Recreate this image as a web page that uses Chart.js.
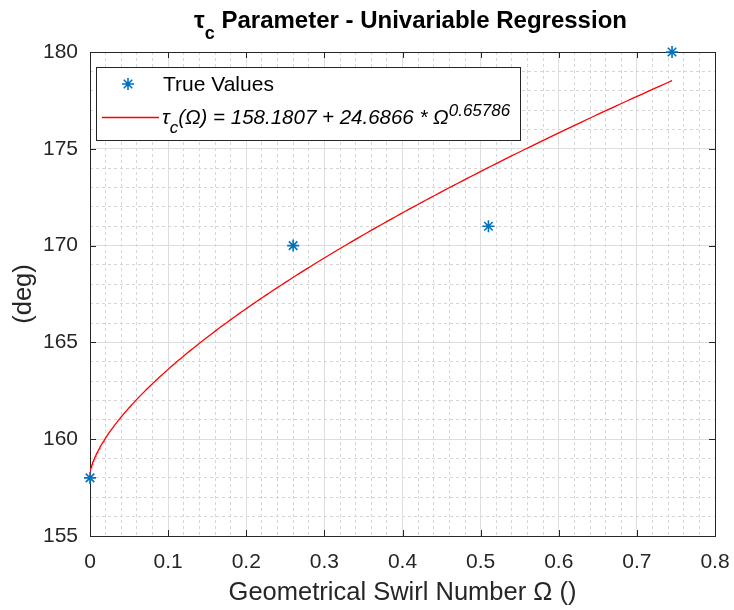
<!DOCTYPE html>
<html>
<head>
<meta charset="utf-8">
<script src="https://cdn.jsdelivr.net/npm/chart.js@4.4.1/dist/chart.umd.min.js"></script>
<style>
  html, body { margin: 0; padding: 0; background: #fff; }
</style>
</head>
<body>
<canvas id="grafico" width="734" height="610"></canvas>
<script>
// Valores medidos (número de swirl geométrico x ângulo tau_c)
const swirl = [0, 0.26, 0.51, 0.745];
const tauC = [158, 170, 171, 180];

// Coeficientes do ajuste: tau_c(Ω) = a + b * Ω^p
const fitA = 158.1807;
const fitB = 24.6866;
const fitP = 0.65786;

// Eixos
const xTicks = [0, 0.1, 0.2, 0.3, 0.4, 0.5, 0.6, 0.7, 0.8];
const xTickLabels = ['0', '0.1', '0.2', '0.3', '0.4', '0.5', '0.6', '0.7', '0.8'];
const yTicks = [155, 160, 165, 170, 175, 180];
const yTickLabels = ['155', '160', '165', '170', '175', '180'];

const FONTE = "'Liberation Sans', Arial, Helvetica, sans-serif";
const COR_TEXTO = '#262626';

// Curva ajustada, amostrada mais densa perto de zero (onde é mais íngreme)
const xMaxCurva = swirl[swirl.length - 1];
const curva = [];
for (let i = 0; i <= 200; i++) {
    const x = xMaxCurva * (i / 200) * (i / 200);
    curva.push({ x: x, y: fitA + fitB * Math.pow(x, fitP) });
}

// Grades secundárias (pontilhadas)
const xMinor = [];
for (let i = 1; i < 40; i++) if (i % 5 !== 0) xMinor.push(+(i * 0.02).toFixed(2));
const yMinor = [];
for (let v = 156; v < 180; v++) if (v % 5 !== 0) yMinor.push(v);

// Escreve uma sequência de trechos (texto normal, índice, expoente)
function desenharTrechos(ctx, trechos, x, y) {
    ctx.textBaseline = 'alphabetic';
    ctx.textAlign = 'left';
    let cx = x;
    trechos.forEach(t => {
        ctx.font = t.font;
        ctx.fillText(t.text, cx, y + (t.dy || 0));
        cx += ctx.measureText(t.text).width;
    });
    return cx;
}
function larguraTrechos(ctx, trechos) {
    let w = 0;
    trechos.forEach(t => { ctx.font = t.font; w += ctx.measureText(t.text).width; });
    return w;
}

// Moldura dos eixos com marcas de escala voltadas para dentro
const moldura = {
    id: 'moldura',
    beforeDatasetsDraw(chart) {
        const { ctx, chartArea: a, scales } = chart;
        const tam = 6;
        ctx.save();
        ctx.strokeStyle = COR_TEXTO;
        ctx.lineWidth = 1;
        ctx.beginPath();
        xTicks.forEach(v => {
            const px = Math.round(scales.x.getPixelForValue(v)) + 0.5;
            ctx.moveTo(px, a.bottom); ctx.lineTo(px, a.bottom - tam);
            ctx.moveTo(px, a.top); ctx.lineTo(px, a.top + tam);
        });
        yTicks.forEach(v => {
            const py = Math.round(scales.y.getPixelForValue(v)) + 0.5;
            ctx.moveTo(a.left, py); ctx.lineTo(a.left + tam, py);
            ctx.moveTo(a.right, py); ctx.lineTo(a.right - tam, py);
        });
        ctx.stroke();
        ctx.strokeRect(Math.round(a.left) + 0.5, Math.round(a.top) + 0.5,
            Math.round(a.right - a.left), Math.round(a.bottom - a.top));
        ctx.restore();
    }
};

// Título com índice e legenda com a equação do ajuste
const textos = {
    id: 'textos',
    afterDraw(chart) {
        const { ctx, chartArea: a } = chart;
        ctx.save();
        ctx.fillStyle = '#000';

        const titulo = [
            { text: 'τ', font: 'bold 24px ' + FONTE },
            { text: 'c', font: 'bold 18px ' + FONTE, dy: 11 },
            { text: ' Parameter - Univariable Regression', font: 'bold 24px ' + FONTE }
        ];
        const wt = larguraTrechos(ctx, titulo);
        desenharTrechos(ctx, titulo, (a.left + a.right) / 2 + 8 - wt / 2, 28);

        // caixa da legenda
        const lx = 96, ly = 67, lw = 424, lh = 73;
        ctx.fillStyle = '#fff';
        ctx.fillRect(lx, ly, lw, lh);
        ctx.strokeStyle = COR_TEXTO;
        ctx.lineWidth = 1;
        ctx.strokeRect(lx + 0.5, ly + 0.5, lw, lh);

        const dsPontos = chart.data.datasets[0];
        const dsCurva = chart.data.datasets[1];
        ctx.strokeStyle = dsPontos.borderColor;
        ctx.lineWidth = dsPontos.borderWidth;
        Chart.helpers.drawPoint(ctx, {
            pointStyle: 'star', radius: dsPontos.pointRadius, rotation: 0,
            borderWidth: dsPontos.borderWidth
        }, 128, 84);

        ctx.strokeStyle = dsCurva.borderColor;
        ctx.lineWidth = dsCurva.borderWidth;
        ctx.beginPath();
        ctx.moveTo(102, 117.5); ctx.lineTo(159, 117.5);
        ctx.stroke();

        ctx.fillStyle = '#000';
        desenharTrechos(ctx, [{ text: dsPontos.label, font: '21px ' + FONTE }], 163, 91);

        const it = 'italic 20.5px ' + FONTE;
        const itp = 'italic 17px ' + FONTE;
        desenharTrechos(ctx, [
            { text: 'τ', font: it },
            { text: 'c', font: itp, dy: 9 },
            { text: '(Ω) = ' + fitA.toFixed(4) + ' + ' + fitB.toFixed(4) + ' * Ω', font: it },
            { text: String(fitP), font: itp, dy: -8 }
        ], 162, 124);
        ctx.restore();
    }
};

new Chart(document.getElementById('grafico'), {
    type: 'scatter',
    data: {
        datasets: [
            {
                label: 'True Values',
                data: swirl.map((x, i) => ({ x: x, y: tauC[i] })),
                pointStyle: 'star',
                pointRadius: 6,
                borderColor: '#0072BD',
                backgroundColor: '#0072BD',
                borderWidth: 1.6,
                showLine: false,
                clip: false
            },
            {
                label: 'Ajuste',
                data: curva,
                showLine: true,
                pointRadius: 0,
                borderColor: '#FF0000',
                borderWidth: 1.3,
                tension: 0
            }
        ]
    },
    options: {
        responsive: false,
        animation: false,
        devicePixelRatio: 1,
        layout: { padding: { top: 52, right: 19, bottom: 0, left: 0 } },
        plugins: { legend: { display: false }, tooltip: { enabled: false } },
        scales: {
            x: {
                type: 'linear', min: 0, max: 0.8,
                afterBuildTicks: s => { s.ticks = xTicks.map(v => ({ value: v })); },
                afterFit: s => { s.height = 74; s.paddingLeft = 0; s.paddingRight = 0; },
                ticks: {
                    callback: (v, i) => xTickLabels[i],
                    font: { family: FONTE, size: 21 }, color: COR_TEXTO, padding: 14, maxRotation: 0
                },
                grid: { color: '#dedede', drawTicks: false },
                border: { display: false },
                title: {
                    display: true, text: 'Geometrical Swirl Number Ω ()', color: COR_TEXTO,
                    font: { family: FONTE, size: 25.5, lineHeight: 1.2 }, padding: { top: 0, bottom: 2 }
                }
            },
            y: {
                type: 'linear', min: 155, max: 180,
                afterBuildTicks: s => { s.ticks = yTicks.map(v => ({ value: v })); },
                afterFit: s => { s.width = 90; },
                ticks: {
                    callback: (v, i) => yTickLabels[i],
                    font: { family: FONTE, size: 21 }, color: COR_TEXTO, padding: 12
                },
                grid: { color: '#dedede', drawTicks: false },
                border: { display: false },
                title: {
                    display: true, text: '(deg)', color: COR_TEXTO,
                    font: { family: FONTE, size: 25.5, lineHeight: 1.2 }, padding: { top: 9, bottom: 0 }
                }
            },
            xMinor: {
                type: 'linear', position: 'bottom', min: 0, max: 0.8,
                afterBuildTicks: s => { s.ticks = xMinor.map(v => ({ value: v })); },
                afterFit: s => { s.height = 0; s.paddingLeft = 0; s.paddingRight = 0; },
                ticks: { display: false },
                grid: { color: '#d6d6d6', drawTicks: false },
                border: { display: false, dash: [3, 3] }
            },
            yMinor: {
                type: 'linear', position: 'left', min: 155, max: 180,
                afterBuildTicks: s => { s.ticks = yMinor.map(v => ({ value: v })); },
                afterFit: s => { s.width = 0; },
                ticks: { display: false },
                grid: { color: '#d6d6d6', drawTicks: false },
                border: { display: false, dash: [3, 3] }
            }
        }
    },
    plugins: [moldura, textos]
});
</script>
</body>
</html>
